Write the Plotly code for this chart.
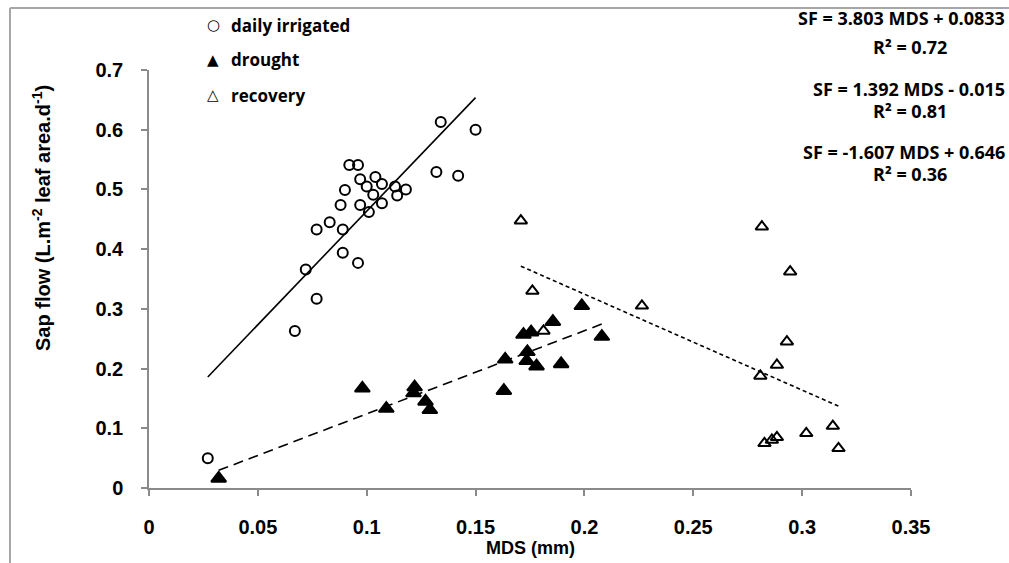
import plotly.graph_objects as go

# Daily irrigated plants: MDS (mm) vs sap flow
irr_mds = [0.027, 0.067, 0.072, 0.077, 0.077, 0.083, 0.088, 0.089, 0.089, 0.090,
           0.092, 0.096, 0.097, 0.097, 0.096, 0.100, 0.101, 0.103, 0.104, 0.107,
           0.107, 0.113, 0.114, 0.118, 0.132, 0.134, 0.142, 0.150]
irr_sf = [0.050, 0.263, 0.366, 0.317, 0.433, 0.445, 0.474, 0.394, 0.433, 0.499,
          0.541, 0.541, 0.517, 0.474, 0.377, 0.505, 0.462, 0.491, 0.521, 0.509,
          0.477, 0.505, 0.490, 0.500, 0.529, 0.613, 0.523, 0.600]

# Drought plants
dro_mds = [0.032, 0.098, 0.109, 0.122, 0.1215, 0.127, 0.129, 0.163, 0.1636, 0.172,
           0.1755, 0.1738, 0.1735, 0.178, 0.1855, 0.1893, 0.1988, 0.208]
dro_sf = [0.016, 0.167, 0.133, 0.169, 0.159, 0.145, 0.131, 0.163, 0.2155, 0.257,
          0.261, 0.228, 0.213, 0.204, 0.2785, 0.2077, 0.305, 0.2535]

# Recovery plants
rec_mds = [0.1708, 0.1761, 0.1812, 0.2264, 0.2815, 0.2945, 0.293, 0.2884, 0.2808,
           0.3141, 0.3019, 0.2884, 0.2861, 0.2827, 0.3167]
rec_sf = [0.4477, 0.330, 0.263, 0.305, 0.4377, 0.3623, 0.245, 0.206, 0.1876,
          0.1038, 0.0916, 0.0849, 0.0804, 0.0749, 0.0665]

# Linear fits: slope, intercept, R²
fit_names = ["daily irrigated", "drought", "recovery"]
fit_slope = [3.803, 1.392, -1.607]
fit_intercept = [0.0833, -0.015, 0.646]
fit_r2 = [0.72, 0.81, 0.36]

x_ticks = [0, 0.05, 0.1, 0.15, 0.2, 0.25, 0.3, 0.35]
x_ticktext = ["0", "0.05", "0.1", "0.15", "0.2", "0.25", "0.3", "0.35"]
y_ticks = [0, 0.1, 0.2, 0.3, 0.4, 0.5, 0.6, 0.7]
y_ticktext = ["0", "0.1", "0.2", "0.3", "0.4", "0.5", "0.6", "0.7"]

W, H = 1009, 563
L, R, T, B = 149, 98, 70, 75
PW, PH = W - L - R, H - T - B


def px(xp):
    return (xp - L) / PW


def py(yp):
    return (H - B - yp) / PH


AXIS_GREY = "#8a8a8a"
fig = go.Figure()

series = [
    (irr_mds, irr_sf, "circle-open", 10, "solid"),
    (dro_mds, dro_sf, "triangle-up", 13, "10px,6px"),
    (rec_mds, rec_sf, "triangle-up-open", 11, "4px,3px"),
]

# Trend lines from the fitted equations, over each series' MDS range
for (xs, ys, sym, size, dash), a, b in zip(series, fit_slope, fit_intercept):
    x0, x1 = min(xs), max(xs)
    fig.add_trace(go.Scatter(
        x=[x0, x1], y=[a * x0 + b, a * x1 + b], mode="lines",
        line=dict(color="black", width=1.6, dash=dash),
        showlegend=False, hoverinfo="skip"))

for (xs, ys, sym, size, dash), name in zip(series, fit_names):
    fig.add_trace(go.Scatter(
        x=xs, y=ys, mode="markers", name=name,
        marker=dict(symbol=sym, size=size, color="black",
                    line=dict(color="black", width=2)),
        showlegend=False))

tick_font = dict(family="Arial", size=20, color="black", weight="bold")
fig.update_xaxes(range=[0, 0.35], tickvals=x_ticks, ticktext=x_ticktext,
                 showgrid=False, zeroline=False, showline=True,
                 linecolor=AXIS_GREY, linewidth=1.5, ticks="outside",
                 ticklen=6, tickcolor=AXIS_GREY, tickwidth=1.5,
                 tickfont=tick_font, ticklabelstandoff=14)
fig.update_yaxes(range=[0, 0.7], tickvals=y_ticks, ticktext=y_ticktext,
                 showgrid=False, zeroline=False, showline=True,
                 linecolor=AXIS_GREY, linewidth=1.5, ticks="outside",
                 ticklen=6, tickcolor=AXIS_GREY, tickwidth=1.5,
                 tickfont=tick_font, ticklabelstandoff=14)


def note(x, y, text, font, xanchor="center", **kw):
    return dict(x=px(x), y=py(y), xref="paper", yref="paper", text=text,
                showarrow=False, xanchor=xanchor, yanchor="middle",
                font=font, **kw)


annotations = []
# Axis titles
annotations.append(note(530, 548, "MDS (mm)",
                        dict(family="Arial", size=18, color="black", weight="bold")))
annotations.append(note(42, 218,
                        "Sap flow (L.m<sup>-2</sup> leaf area.d<sup>-1</sup>)",
                        dict(family="Arial", size=20, color="black", weight="bold"),
                        textangle=-90))

# Key
label_font = dict(family="Open Sans", size=17, color="black", weight="bold")
key_rows = [("○", 25), ("▲", 60), ("△", 95)]
for (glyph, yy), name in zip(key_rows, fit_names):
    annotations.append(note(213, yy, glyph,
                            dict(family="DejaVu Sans", size=15, color="black")))
    annotations.append(note(229, yy, name, label_font, xanchor="left"))

# Regression equations
eq_font = dict(family="Open Sans", size=18, color="black", weight="bold")
eq_rows = [(18, 47), (89, 111), (152, 174)]
for (ye, yr), a, b, r2 in zip(eq_rows, fit_slope, fit_intercept, fit_r2):
    sign = "+" if b >= 0 else "-"
    eq = f"SF = {a:g} MDS {sign} {abs(b):g}"
    annotations.append(note(1007, ye, eq, eq_font, xanchor="right"))
    annotations.append(note(910, yr, f"R² = {r2:.2f}", eq_font))

# Outer frame (left and top edges)
shapes = [
    dict(type="line", xref="paper", yref="paper", x0=px(10), x1=px(10),
         y0=py(8), y1=py(H + 5), line=dict(color="#a6a6a6", width=2)),
    dict(type="line", xref="paper", yref="paper", x0=px(10), x1=px(W + 5),
         y0=py(8), y1=py(8), line=dict(color="#a6a6a6", width=2)),
]

fig.update_layout(width=W, height=H, margin=dict(l=L, r=R, t=T, b=B),
                  plot_bgcolor="white", paper_bgcolor="white",
                  annotations=annotations, shapes=shapes, showlegend=False)

fig.write_html("out.html")
